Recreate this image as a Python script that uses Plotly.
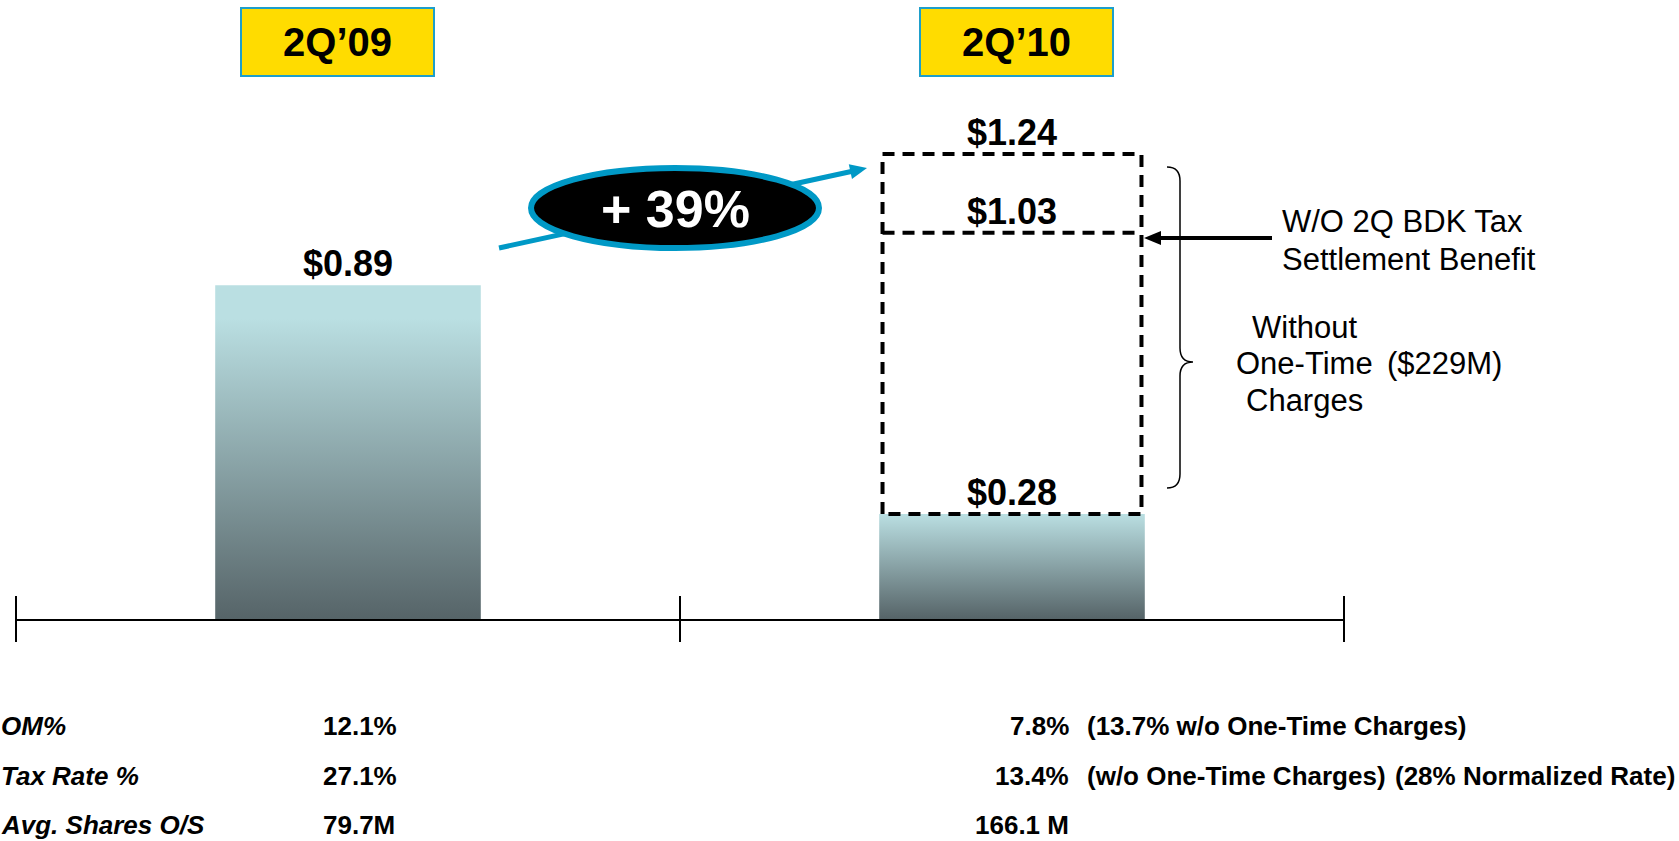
import plotly.graph_objects as go

# ---------------- data ----------------
periods = ["2Q\u201909", "2Q\u201910"]
period_x = [0.5, 1.5]
axis_ticks = [0, 1, 2]
eps_reported = [0.89, 0.28]            # reported EPS bars
eps_2q10_ex_charges = 1.24             # 2Q'10 without one-time charges
eps_2q10_ex_charges_ex_tax = 1.03      # also without 2Q BDK tax settlement benefit
growth_label = "+ 39%"
eps_labels = ["$0.89", "$0.28"]
ex_charges_label = "$1.24"
ex_tax_label = "$1.03"

row_labels = ["OM%", "Tax Rate %", "Avg. Shares O/S"]
vals_2q09 = ["12.1%", "27.1%", "79.7M"]
vals_2q10 = ["7.8%", "13.4%", "166.1 M"]
notes_2q10 = ["(13.7% w/o One-Time Charges)", "(w/o One-Time Charges)", ""]
notes2_2q10 = ["", "(28% Normalized Rate)", ""]

note_tax = ["W/O 2Q BDK Tax", "Settlement Benefit"]
note_charges = ["Without", "One-Time", "Charges"]
note_amount = "($229M)"

# ---------------- geometry / style ----------------
W, H = 1679, 841
ML, MR, MT, MB = 16, 335, 0, 222
PW = W - ML - MR
PH = H - MT - MB
PX_PER_DOLLAR = 375.0
YMAX = PH / PX_PER_DOLLAR
BAR_W = 0.40
BOX_W = 0.39
FONT = "Liberation Sans, Arial, sans-serif"
BLUE = "#0099C6"
DARK = "#566468"
LIGHT = "#BADFE2"


def px2x(p):
    return (p - ML) / PW


def py2y(p):
    return (MT + PH - p) / PH


fig = go.Figure()

# gradient bars
scales = [
    [[0, DARK], [0.9, LIGHT], [1, LIGHT]],
    [[0, DARK], [1, LIGHT]],
]
for c, v, cs in zip(period_x, eps_reported, scales):
    fig.add_trace(go.Scatter(
        x=[c - BAR_W / 2, c + BAR_W / 2, c + BAR_W / 2, c - BAR_W / 2, c - BAR_W / 2],
        y=[0, 0, v, v, 0],
        mode="lines", fill="toself", line=dict(width=0),
        fillgradient=dict(type="vertical", colorscale=cs),
        hoverinfo="skip", showlegend=False,
    ))

# dashed box for 2Q'10 adjusted EPS
c2 = period_x[1]
lft, rgt = c2 - BOX_W / 2, c2 + BOX_W / 2
fig.add_trace(go.Scatter(
    x=[lft, lft, rgt, rgt, lft, None, lft, rgt],
    y=[eps_reported[1], eps_2q10_ex_charges, eps_2q10_ex_charges, eps_reported[1],
       eps_reported[1], None, eps_2q10_ex_charges_ex_tax, eps_2q10_ex_charges_ex_tax],
    mode="lines", line=dict(color="black", width=4, dash="12px,8px"),
    hoverinfo="skip", showlegend=False,
))

# axis tick marks crossing the baseline
fig.add_trace(go.Scatter(
    x=axis_ticks, y=[0] * len(axis_ticks), mode="markers",
    marker=dict(symbol="line-ns", size=33, line=dict(width=2, color="black")),
    cliponaxis=False, hoverinfo="skip", showlegend=False,
))

# value labels
fig.add_trace(go.Scatter(
    x=period_x + [c2, c2],
    y=eps_reported + [eps_2q10_ex_charges, eps_2q10_ex_charges_ex_tax],
    text=eps_labels + [ex_charges_label, ex_tax_label],
    mode="text", textposition="top center",
    textfont=dict(family=FONT, size=36, color="black", weight="bold"),
    cliponaxis=False, hoverinfo="skip", showlegend=False,
))

shapes = []
# blue growth arrow (line + head), drawn under the ellipse
tip = (867, 168)
tail = (499, 248)
dx, dy = tip[0] - tail[0], tip[1] - tail[1]
ln = (dx * dx + dy * dy) ** 0.5
ux, uy = dx / ln, dy / ln
nx, ny = -uy, ux
hl, hw = 17, 7.5
bx, by = tip[0] - hl * ux, tip[1] - hl * uy
shapes.append(dict(type="line", xref="paper", yref="paper",
                   x0=px2x(tail[0]), y0=py2y(tail[1]), x1=px2x(bx + 2 * ux), y1=py2y(by + 2 * uy),
                   line=dict(color=BLUE, width=5)))
shapes.append(dict(type="path", xref="paper", yref="paper",
                   path=f"M {px2x(tip[0])},{py2y(tip[1])} L {px2x(bx + hw * nx)},{py2y(by + hw * ny)} "
                        f"L {px2x(bx - hw * nx)},{py2y(by - hw * ny)} Z",
                   fillcolor=BLUE, line=dict(width=0)))
# ellipse
ecx, ecy, erx, ery = 675, 208, 144, 40
shapes.append(dict(type="circle", xref="paper", yref="paper",
                   x0=px2x(ecx - erx), x1=px2x(ecx + erx), y0=py2y(ecy + ery), y1=py2y(ecy - ery),
                   fillcolor="black", line=dict(color=BLUE, width=6)))
# black arrow pointing to $1.03 line
ay_ = 238
shapes.append(dict(type="line", xref="paper", yref="paper",
                   x0=px2x(1272), y0=py2y(ay_), x1=px2x(1158), y1=py2y(ay_),
                   line=dict(color="black", width=4)))
shapes.append(dict(type="path", xref="paper", yref="paper",
                   path=f"M {px2x(1144)},{py2y(ay_)} L {px2x(1161)},{py2y(ay_ - 7)} L {px2x(1161)},{py2y(ay_ + 7)} Z",
                   fillcolor="black", line=dict(width=0)))
# curly brace
bt, bm, bb = 167, 362, 488
xl, xv, xt = 1167, 1180, 1193
pts = (f"M {px2x(xl)},{py2y(bt)} Q {px2x(xv)},{py2y(bt)} {px2x(xv)},{py2y(bt + 14)} "
       f"L {px2x(xv)},{py2y(bm - 14)} Q {px2x(xv)},{py2y(bm)} {px2x(xt)},{py2y(bm)} "
       f"Q {px2x(xv)},{py2y(bm)} {px2x(xv)},{py2y(bm + 14)} "
       f"L {px2x(xv)},{py2y(bb - 14)} Q {px2x(xv)},{py2y(bb)} {px2x(xl)},{py2y(bb)}")
shapes.append(dict(type="path", xref="paper", yref="paper", path=pts,
                   line=dict(color="black", width=1.5)))

ann = []
# period header boxes
for c, lab, xs in zip(period_x, periods, [-11, 4]):
    ann.append(dict(x=c, xref="x", y=py2y(42), yref="paper", text=lab, showarrow=False,
                    xshift=xs, xanchor="center", yanchor="middle",
                    font=dict(family=FONT, size=40, color="black", weight="bold"),
                    bgcolor="#FFDC00", bordercolor="#1E9FCB", borderwidth=2, borderpad=1,
                    width=189, height=64))
# growth label
ann.append(dict(x=px2x(ecx), y=py2y(ecy + 1), xref="paper", yref="paper", text=growth_label,
                showarrow=False, xanchor="center", yanchor="middle",
                font=dict(family=FONT, size=52, color="white", weight="bold")))
# right-side notes
for t, yy in zip(note_tax, [221, 259]):
    ann.append(dict(x=px2x(1280), y=py2y(yy), xref="paper", yref="paper", text=t, showarrow=False,
                    xanchor="left", yanchor="middle", font=dict(family=FONT, size=31, color="black")))
for t, yy in zip(note_charges, [327, 363, 400]):
    ann.append(dict(x=px2x(1304), y=py2y(yy), xref="paper", yref="paper", text=t, showarrow=False,
                    xanchor="center", yanchor="middle", font=dict(family=FONT, size=31, color="black")))
ann.append(dict(x=px2x(1385), y=py2y(363), xref="paper", yref="paper", text=note_amount,
                showarrow=False, xanchor="left", yanchor="middle",
                font=dict(family=FONT, size=31, color="black")))

# bottom table
row_y = [726, 776, 825]
for lab, v09, v10, n1, n2, yy in zip(row_labels, vals_2q09, vals_2q10, notes_2q10, notes2_2q10, row_y):
    ann.append(dict(x=px2x(-1), y=py2y(yy), xref="paper", yref="paper", text=lab, showarrow=False,
                    xanchor="left", yanchor="middle",
                    font=dict(family=FONT, size=26, color="black", weight="bold", style="italic")))
    ann.append(dict(x=px2x(321), y=py2y(yy), xref="paper", yref="paper", text=v09, showarrow=False,
                    xanchor="left", yanchor="middle",
                    font=dict(family=FONT, size=26, color="black", weight="bold")))
    ann.append(dict(x=px2x(1071), y=py2y(yy), xref="paper", yref="paper", text=v10, showarrow=False,
                    xanchor="right", yanchor="middle",
                    font=dict(family=FONT, size=26, color="black", weight="bold")))
    if n1:
        ann.append(dict(x=px2x(1085), y=py2y(yy), xref="paper", yref="paper", text=n1, showarrow=False,
                        xanchor="left", yanchor="middle",
                        font=dict(family=FONT, size=26, color="black", weight="bold")))
    if n2:
        ann.append(dict(x=px2x(1393), y=py2y(yy), xref="paper", yref="paper", text=n2, showarrow=False,
                        xanchor="left", yanchor="middle",
                        font=dict(family=FONT, size=26, color="black", weight="bold")))

fig.update_layout(
    width=W, height=H,
    margin=dict(l=ML, r=MR, t=MT, b=MB, pad=0),
    paper_bgcolor="white", plot_bgcolor="white",
    showlegend=False,
    xaxis=dict(range=[0, 2], showgrid=False, zeroline=False, showline=True,
               linecolor="black", linewidth=2, ticks="", showticklabels=False, fixedrange=True),
    yaxis=dict(range=[0, YMAX], visible=False, fixedrange=True),
    shapes=shapes, annotations=ann,
)

fig.write_html("out.html", config={"displayModeBar": False})
